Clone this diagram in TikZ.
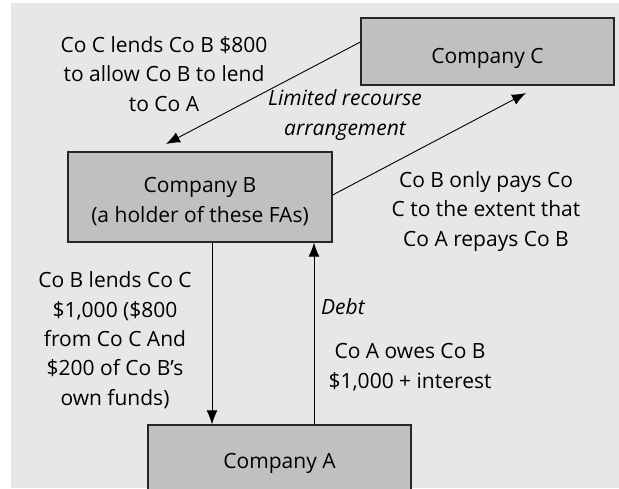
\documentclass[tikz,border=0pt]{standalone}
\usepackage{fontspec}
\setmainfont{Open Sans}
\usetikzlibrary{arrows.meta}
\definecolor{bg}{HTML}{E6E7E9}
\definecolor{boxfill}{HTML}{BFC0C2}
\begin{document}
\begin{tikzpicture}[x=1pt,y=-1pt,
  company/.style={draw=black!85, line width=1.3pt, fill=boxfill, inner sep=0pt,
    font=\fontsize{21}{29.3}\selectfont, align=center, text depth=0pt},
  lbl/.style={inner sep=0pt, font=\fontsize{21}{29.3}\selectfont, align=center, anchor=base},
  conn/.style={line width=0.9pt, -{Latex[length=14pt,width=11pt]}}
]
\useasboundingbox (0,0) rectangle (619,488);
\fill[bg] (11,3) rectangle (619,488);
\begin{scope}
\clip (0,0) rectangle (619,488);
\node[company, minimum width=253pt, minimum height=67pt, text height=24pt] (C) at (487.5,51.5) {Company C};
\node[company, minimum width=264pt, minimum height=90pt, text height=50pt] (B) at (200,197) {Company B\\(a holder of these FAs)};
\node[company, minimum width=263pt, minimum height=72pt, text height=14pt] (A) at (279.5,461) {Company A};

\coordinate (bTip) at (166,144);
\coordinate (cTip) at (526,93);
\coordinate (xdown) at (212,0);
\coordinate (xup) at (314,0);

\draw[conn] ([yshift=9.5pt]C.west) -- (bTip);
\draw[conn] ([yshift=2pt]B.east) -- (cTip);
\draw[conn] (B.south -| xdown) -- (A.north -| xdown);
\draw[conn] (A.north -| xup) -- (B.south -| xup);

\node[lbl] (t1) at (164,111) {Co C lends Co B \$800\\to allow Co B to lend\\to Co A};
\node[lbl] (t2) at (345,135) {\itshape Limited recourse\\\itshape arrangement};
\node[lbl] (t3) at (486,246) {Co B only pays Co\\C to the extent that\\Co A repays Co B};
\node[lbl] (t4) at (115,405) {Co B lends Co C\\\$1,000 (\$800\\from Co C And\\\$200 of Co B's\\own funds)};
\node[lbl, anchor=base west] (t5) at (321,314) {\itshape Debt};
\node[lbl] (t6) at (410,388) {Co A owes Co B\\\$1,000 + interest};
\end{scope}
\end{tikzpicture}
\end{document}
